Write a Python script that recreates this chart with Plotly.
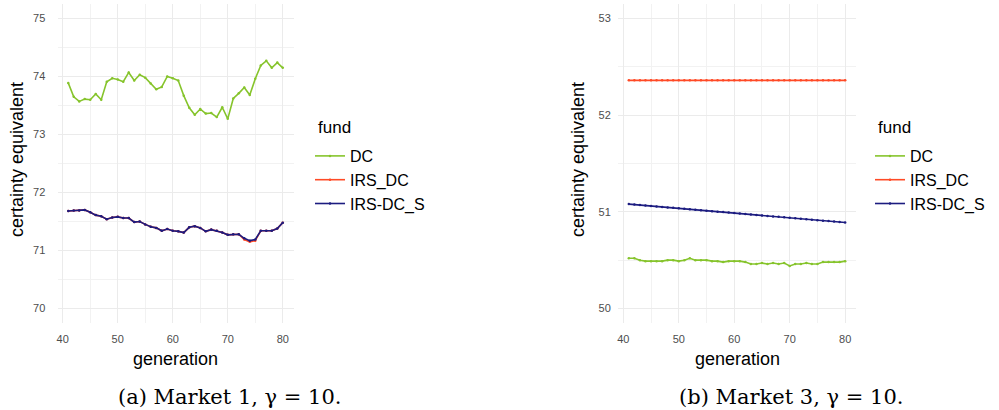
import plotly.graph_objects as go

generations = list(range(41, 81))

m1_dc = [73.89, 73.65, 73.57, 73.61, 73.60, 73.70, 73.60, 73.91, 73.97, 73.95,
         73.91, 74.07, 73.93, 74.03, 73.98, 73.88, 73.78, 73.82, 74.00, 73.97,
         73.93, 73.67, 73.46, 73.34, 73.44, 73.36, 73.37, 73.30, 73.47, 73.27,
         73.62, 73.71, 73.81, 73.68, 73.96, 74.19, 74.27, 74.15, 74.24, 74.15]
m1_irs_dc = [71.68, 71.69, 71.69, 71.70, 71.66, 71.61, 71.59, 71.54, 71.57, 71.58,
             71.56, 71.56, 71.49, 71.50, 71.45, 71.41, 71.39, 71.34, 71.37, 71.34,
             71.33, 71.31, 71.40, 71.42, 71.39, 71.33, 71.36, 71.34, 71.31, 71.27,
             71.28, 71.28, 71.19, 71.15, 71.17, 71.34, 71.34, 71.34, 71.38, 71.48]
m1_irs_dc_s = [71.68, 71.69, 71.69, 71.70, 71.66, 71.61, 71.59, 71.54, 71.57, 71.58,
               71.56, 71.56, 71.49, 71.50, 71.45, 71.41, 71.39, 71.34, 71.37, 71.34,
               71.33, 71.31, 71.40, 71.42, 71.39, 71.33, 71.36, 71.34, 71.31, 71.27,
               71.28, 71.28, 71.21, 71.17, 71.19, 71.34, 71.34, 71.34, 71.38, 71.48]

m3_dc = [50.52, 50.52, 50.50, 50.49, 50.49, 50.49, 50.49, 50.50, 50.50, 50.49,
         50.50, 50.52, 50.50, 50.50, 50.50, 50.49, 50.49, 50.48, 50.49, 50.49,
         50.49, 50.48, 50.46, 50.46, 50.47, 50.46, 50.47, 50.46, 50.47, 50.44,
         50.46, 50.46, 50.47, 50.46, 50.46, 50.48, 50.48, 50.48, 50.48, 50.49]
m3_irs_dc = [52.36, 52.36, 52.36, 52.36, 52.36, 52.36, 52.36, 52.36, 52.36, 52.36,
             52.36, 52.36, 52.36, 52.36, 52.36, 52.36, 52.36, 52.36, 52.36, 52.36,
             52.36, 52.36, 52.36, 52.36, 52.36, 52.36, 52.36, 52.36, 52.36, 52.36,
             52.36, 52.36, 52.36, 52.36, 52.36, 52.36, 52.36, 52.36, 52.36, 52.36]
m3_irs_dc_s = [51.080, 51.075, 51.070, 51.065, 51.060, 51.056, 51.051, 51.046, 51.041, 51.036,
               51.031, 51.026, 51.021, 51.016, 51.012, 51.007, 51.002, 50.997, 50.992, 50.987,
               50.982, 50.977, 50.972, 50.968, 50.963, 50.958, 50.953, 50.948, 50.943, 50.938,
               50.933, 50.928, 50.924, 50.919, 50.914, 50.909, 50.904, 50.899, 50.894, 50.889]

series_names = ["DC", "IRS_DC", "IRS-DC_S"]
colors = ["#86C42C", "#FF4A26", "#1C1C80"]
x_ticks = [40, 50, 60, 70, 80]
captions = ["(a) Market 1, \u03b3 = 10.", "(b) Market 3, \u03b3 = 10."]

W, H = 999, 410
fig = go.Figure()

panels = [
    dict(data=[m1_dc, m1_irs_dc, m1_irs_dc_s], xa="x", ya="y", legend="legend"),
    dict(data=[m3_dc, m3_irs_dc, m3_irs_dc_s], xa="x2", ya="y2", legend="legend2"),
]
for p in panels:
    for name, vals, col in zip(series_names, p["data"], colors):
        fig.add_trace(go.Scatter(
            x=generations, y=vals, name=name, mode="lines+markers",
            line=dict(color=col, width=1.6),
            marker=dict(color=col, size=2.5),
            xaxis=p["xa"], yaxis=p["ya"], legend=p["legend"],
        ))

tickfont = dict(family="Liberation Sans, Arial, sans-serif", size=11, color="#4D4D4D")
grid = dict(showgrid=True, gridcolor="#EBEBEB", gridwidth=1, zeroline=False,
            showline=False, tickfont=tickfont)
minor_grid = dict(showgrid=True, gridcolor="#F2F2F2", gridwidth=1)

y_dom = [1 - 323 / H, 1 - 4 / H]
legend_common = dict(xanchor="left", yanchor="middle", y=1 - 180 / H,
                     font=dict(size=16), bgcolor="rgba(0,0,0,0)", tracegroupgap=0)
fig.update_layout(
    width=W, height=H, margin=dict(l=0, r=0, t=0, b=0),
    paper_bgcolor="white", plot_bgcolor="white",
    font=dict(family="Liberation Sans, Arial, sans-serif", color="black"),
    xaxis=dict(domain=[57.5 / W, 293.5 / W], range=[39.05, 81.95], tickvals=x_ticks,
               minor=dict(dtick=5, tick0=40, **minor_grid), anchor="y",
               ticks="outside", ticklen=6, tickcolor="rgba(0,0,0,0)", **grid),
    yaxis=dict(domain=y_dom, range=[69.75, 75.25], dtick=1, tick0=70,
               minor=dict(dtick=0.5, tick0=70, **minor_grid), anchor="x",
               ticks="outside", ticklen=9, tickcolor="rgba(0,0,0,0)", **grid),
    xaxis2=dict(domain=[618 / W, 856 / W], range=[39.05, 81.95], tickvals=x_ticks,
                minor=dict(dtick=5, tick0=40, **minor_grid), anchor="y2",
                ticks="outside", ticklen=6, tickcolor="rgba(0,0,0,0)", **grid),
    yaxis2=dict(domain=y_dom, range=[49.85, 53.15], dtick=1, tick0=50,
                minor=dict(dtick=0.5, tick0=50, **minor_grid), anchor="x2",
                ticks="outside", ticklen=4, tickcolor="rgba(0,0,0,0)", **grid),
    legend=dict(x=310 / W, **legend_common),
    legend2=dict(x=870 / W, **legend_common),
)

title_font = dict(family="Liberation Sans, Arial, sans-serif", size=18, color="black")
legend_title_font = dict(family="Liberation Sans, Arial, sans-serif", size=17, color="black")
cap_font = dict(family="DejaVu Serif, serif", size=21, color="black")
annotations = [
    dict(text="certainty equivalent", x=17 / W, y=1 - 160 / H, textangle=-90, font=title_font),
    dict(text="certainty equivalent", x=578 / W, y=1 - 160 / H, textangle=-90, font=title_font),
    dict(text="generation", x=175.5 / W, y=1 - 359 / H, font=title_font),
    dict(text="generation", x=737 / W, y=1 - 359 / H, font=title_font),
    dict(text="fund", x=316 / W, y=1 - 127 / H, xanchor="left", font=legend_title_font),
    dict(text="fund", x=876 / W, y=1 - 127 / H, xanchor="left", font=legend_title_font),
    dict(text=captions[0], x=230 / W, y=1 - 397 / H, font=cap_font),
    dict(text=captions[1], x=791 / W, y=1 - 397 / H, font=cap_font),
]
for a in annotations:
    a.setdefault("xanchor", "center")
    fig.add_annotation(xref="paper", yref="paper", showarrow=False,
                       yanchor="middle", **a)

fig.write_html("out.html")
